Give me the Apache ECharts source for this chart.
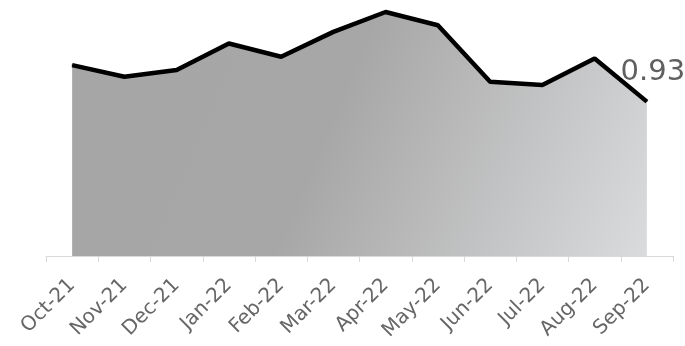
<!DOCTYPE html>
<html>
<head>
<meta charset="utf-8">
<script src="https://cdn.jsdelivr.net/npm/echarts@6/dist/echarts.min.js"></script>
<style>
  html, body { margin: 0; padding: 0; background: #fff; }
  #chart { width: 685px; height: 346px; }
</style>
</head>
<body>
<div id="chart"></div>
<script>
const months = ["Oct-21", "Nov-21", "Dec-21", "Jan-22", "Feb-22", "Mar-22",
                "Apr-22", "May-22", "Jun-22", "Jul-22", "Aug-22", "Sep-22"]
const values = [1.15, 1.08, 1.12, 1.28, 1.20, 1.35, 1.47, 1.39, 1.05, 1.03, 1.19, 0.93]

let myChart = echarts.init(document.getElementById("chart"))

// only the last point gets a value label
let seriesData = values.map((v, i) => {
  if (i === values.length - 1) {
    return { value: v, label: { show: true } }
  }
  return v
})

myChart.setOption({
  animation: false,
  grid: {
    left: 46,
    right: 12,
    top: 7,
    bottom: 90
  },
  xAxis: {
    type: "category",
    boundaryGap: true,
    data: months,
    axisLine: {
      lineStyle: { color: "#d9d9d9", width: 1 }
    },
    axisTick: {
      show: true,
      length: 6,
      lineStyle: { color: "#d9d9d9" }
    },
    axisLabel: {
      rotate: 45,
      margin: 26,
      interval: 0,
      color: "#666",
      fontSize: 20,
      fontFamily: "DejaVu Sans"
    }
  },
  yAxis: {
    type: "value",
    min: 0,
    max: 1.5,
    show: false
  },
  series: [
    {
      type: "line",
      data: seriesData,
      symbol: "circle",
      symbolSize: 1,
      showSymbol: true,
      itemStyle: { color: "#000" },
      lineStyle: { color: "#000", width: 4.5 },
      label: {
        show: false,
        position: "top",
        distance: 14,
        offset: [6, 0],
        color: "#606060",
        fontSize: 29,
        fontFamily: "DejaVu Sans",
        formatter: p => p.value.toFixed(2)
      },
      areaStyle: {
        opacity: 1,
        // diagonal grey gradient, light at bottom right
        color: new echarts.graphic.LinearGradient(0, 0, 1, 1, [
          { offset: 0, color: "#a6a6a6" },
          { offset: 0.45, color: "#a7a7a7" },
          { offset: 1, color: "#dadbdd" }
        ])
      }
    }
  ]
})
</script>
</body>
</html>
